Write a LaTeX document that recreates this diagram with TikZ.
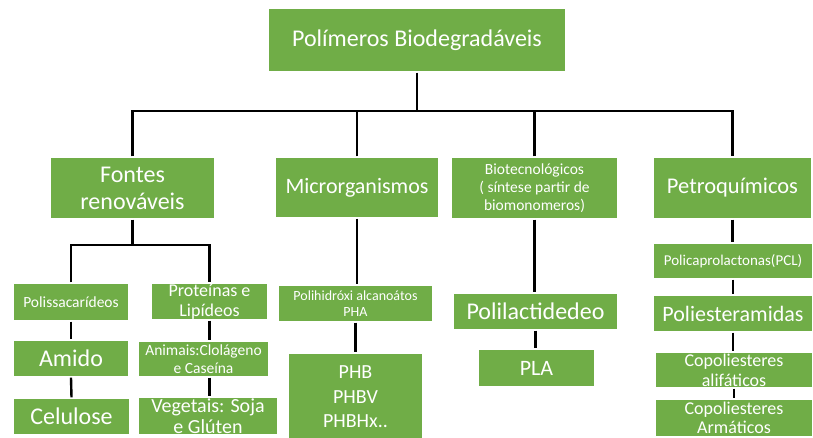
\documentclass[tikz,border=0pt]{standalone}
\usepackage{fontspec}
\setmainfont{Carlito}
\usetikzlibrary{shadows}
\definecolor{boxgreen}{RGB}{112,173,71}
\tikzset{
  box/.style={rectangle, fill=boxgreen, draw=white, line width=1.2pt, text=white,
    align=center, inner sep=1pt,
    drop shadow={shadow xshift=0.9pt, shadow yshift=-0.9pt, opacity=0.35, fill=black}},
  conn/.style={line width=2.4pt, black},
}
\newcommand{\fs}[2]{\fontsize{#1}{#2}\selectfont}
\begin{document}
\begin{tikzpicture}[x=1pt,y=-1pt]
\path[use as bounding box] (0,0) rectangle (813,438);
\clip (0,0) rectangle (813,438);
\fill[white] (0,0) rectangle (813,438);
% level 1
\node[box, minimum width=298pt, minimum height=64pt, font=\fs{24}{27}] (top) at (417,40) {Polímeros Biodegradáveis};
% level 2
\node[box, minimum width=165pt, minimum height=62pt, font=\fs{24}{27}] (fontes) at (132.5,188) {Fontes\\renováveis};
\node[box, minimum width=164pt, minimum height=61pt, font=\fs{22}{25}] (micro) at (357,187.5) {Microrganismos};
\node[box, minimum width=167pt, minimum height=62pt, font=\fs{15.5}{18}] (bio) at (534.5,188) {Biotecnológicos\\( síntese partir de\\biomonomeros)};
\node[box, minimum width=159pt, minimum height=62pt, font=\fs{22.5}{25}] (petro) at (732.5,188) {Petroquímicos};
% fontes column
\node[box, minimum width=116pt, minimum height=38pt, font=\fs{15.5}{18}] (polis) at (71,302) {Polissacarídeos};
\node[box, minimum width=116pt, minimum height=37pt, font=\fs{24}{27}] (amido) at (71,358.5) {Amido};
\node[box, minimum width=117pt, minimum height=37pt, font=\fs{24}{27}] (celul) at (71.5,416.5) {Celulose};
\node[box, minimum width=117pt, minimum height=37pt, font=\fs{18}{20}] (prot) at (209.5,301.5) {Proteínas e\\Lipídeos};
\node[box, minimum width=131pt, minimum height=36pt, font=\fs{15.5}{18}] (anim) at (203.5,359) {Animais:Clolágeno\\e Caseína};
\node[box, minimum width=140pt, minimum height=38pt, font=\fs{20}{21}] (veget) at (208,416) {Vegetais: Soja\\e Glúten};
% micro column
\node[box, minimum width=155pt, minimum height=37pt, font=\fs{14}{16}] (pha) at (355.5,303.5) {Polihidróxi alcanoátos\\PHA};
\node[box, minimum width=135pt, minimum height=88pt, font=\fs{20}{24.5}] (phb) at (355.5,397) {PHB\\PHBV\\PHBHx..};
% bio column
\node[box, minimum width=165pt, minimum height=37pt, font=\fs{24}{27}] (polil) at (535.5,311.5) {Polilactidedeo};
\node[box, minimum width=117pt, minimum height=38pt, font=\fs{22}{25}] (pla) at (536.5,368) {PLA};
% petro column
\node[box, minimum width=160pt, minimum height=36pt, font=\fs{15}{18}] (pcl) at (733,261) {Policaprolactonas(PCL)};
\node[box, minimum width=160pt, minimum height=37pt, font=\fs{22}{25}] (polie) at (733,313.5) {Poliesteramidas};
\node[box, minimum width=158pt, minimum height=36pt, font=\fs{18}{20}] (copa) at (734,370) {Copoliesteres\\alifáticos};
\node[box, minimum width=158pt, minimum height=38pt, font=\fs{18}{19}] (copb) at (734,418) {Copoliesteres\\Armáticos};
% connectors
\coordinate (bus) at (0,111);
\coordinate (split) at (0,245);
\draw[conn] (top.south) -- (top.south |- bus);
\draw[conn] (fontes.north) -- (fontes.north |- bus) -- (petro.north |- bus) -- (petro.north);
\draw[conn] (micro.north) -- (micro.north |- bus);
\draw[conn] (bio.north) -- (bio.north |- bus);
\draw[conn] (fontes.south) -- (fontes.south |- split);
\draw[conn] (polis.north) -- (polis.north |- split) -- (prot.north |- split) -- (prot.north);
\draw[conn] (polis.south) -- (amido.north);
\draw[conn] (amido.south) -- (celul.north);
\draw[conn] (prot.south) -- (prot.south |- anim.north);
\draw[conn] (prot.south |- anim.south) -- (prot.south |- veget.north);
\draw[conn] (micro.south) -- (micro.south |- pha.north);
\draw[conn] (pha.south) -- (pha.south |- phb.north);
\draw[conn] (bio.south) -- (bio.south |- polil.north);
\draw[conn] (polil.south) -- (polil.south |- pla.north);
\draw[conn] (petro.south) -- (petro.south |- pcl.north);
\draw[conn] (pcl.south) -- (pcl.south |- polie.north);
\draw[conn] (polie.south) -- (polie.south |- copa.north);
\draw[conn] (copa.south) -- (copa.south |- copb.north);
\end{tikzpicture}
\end{document}
